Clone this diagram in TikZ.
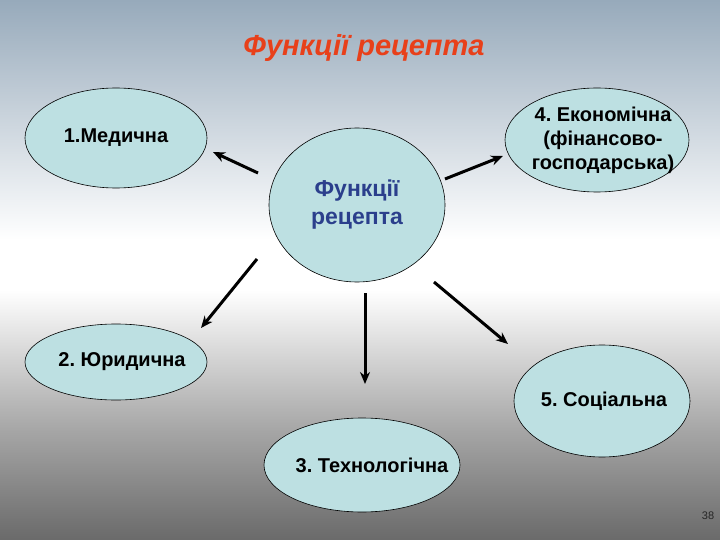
\documentclass[tikz,border=0pt]{standalone}
\usepackage{fontspec}
\setmainfont{Liberation Sans}
\usetikzlibrary{arrows.meta,shapes.geometric}
\definecolor{fillc}{HTML}{BDE0E2}
\definecolor{bgtop}{HTML}{97AABB}
\definecolor{bgmid}{HTML}{A6A6A6}
\definecolor{bgbot}{HTML}{6A6A6A}
\definecolor{titlec}{HTML}{E8401A}
\definecolor{centc}{HTML}{2B3F8C}
\tikzset{
  func/.style={ellipse, draw=black, line width=0.6pt, fill=fillc, inner xsep=-40pt, inner ysep=-25pt,
    align=center, font=\fontsize{20}{24}\selectfont\bfseries},
  arr/.style={line width=3pt, -{Stealth[length=12pt,width=10pt]}}
}
\begin{document}
\frenchspacing
\begin{tikzpicture}[x=1pt,y=-1pt]
\useasboundingbox (0,0) rectangle (720,540);
\shade[top color=bgtop, bottom color=white] (0,0) rectangle (720,240);
\fill[white] (0,240) rectangle (720,290);
\shade[top color=white, bottom color=bgmid] (0,290) rectangle (720,430);
\shade[top color=bgmid, bottom color=bgbot] (0,430) rectangle (720,540);

\node[font=\fontsize{29}{30}\selectfont\bfseries\itshape, text=titlec] (title) at (364,48) {Функції рецепта};

\node[func, minimum width=176pt, minimum height=154pt, text=centc,
  font=\fontsize{23}{28}\selectfont\bfseries] (c) at (357,205) {Функції\\рецепта};
\node[func, minimum width=182pt, minimum height=100pt] (m) at (116,138) {1.Медична};
\node[func, minimum width=184pt, minimum height=104pt] (e) at (597,140) {\hspace*{12pt}4. Економічна\\\hspace*{12pt}(фінансово-\\\hspace*{12pt}господарська)};
\node[func, minimum width=182pt, minimum height=76pt] (j) at (116,362) {\hspace*{12pt}2. Юридична};
\node[func, minimum width=176pt, minimum height=112pt] (s) at (602,401) {\hspace*{4pt}5. Соціальна};
\node[func, minimum width=196pt, minimum height=94pt] (t) at (362,465) {\hspace*{20pt}3. Технологічна};

\coordinate (m1) at (258,173); \coordinate (m2) at (213,152);
\coordinate (e1) at (445,179); \coordinate (e2) at (503,156);
\coordinate (j1) at (257,259); \coordinate (j2) at (201,328);
\coordinate (t1) at (365,293); \coordinate (t2) at (365,384);
\coordinate (s1) at (434,282); \coordinate (s2) at (508,344);
\draw[arr] (m1) -- (m2);
\draw[arr] (e1) -- (e2);
\draw[arr] (j1) -- (j2);
\draw[arr] (t1) -- (t2);
\draw[arr] (s1) -- (s2);

\node[font=\fontsize{11}{12}\selectfont, text=black!85] (pg) at (708,516) {38};
\end{tikzpicture}
\end{document}
